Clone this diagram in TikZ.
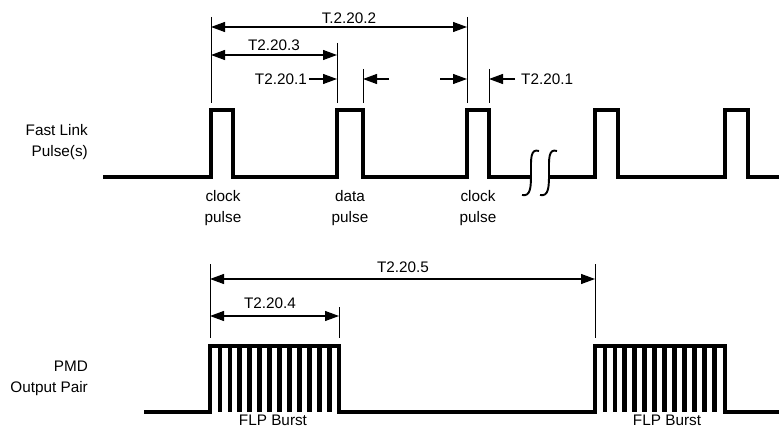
\documentclass[tikz,border=0pt]{standalone}
\usepackage{fontspec}
\setmainfont{Liberation Sans}
\usetikzlibrary{arrows.meta}

\begin{document}
\begin{tikzpicture}[x=1pt,y=-1pt,>={Triangle[length=14pt,width=10pt]},
    wave/.style={line width=3.4pt,line join=miter},
    dimline/.style={line width=1.1pt},
    tickline/.style={line width=0.9pt},
    lbl/.style={inner sep=0pt,font=\fontsize{15.3}{21}\selectfont}]
    \useasboundingbox (0,0) rectangle (779,428);

    % signal names
    \node[lbl,anchor=east,align=right] (flp) at (88,142) {Fast Link\\Pulse(s)};
    \node[lbl,anchor=east,align=right] (pmd) at (88,378) {PMD\\Output Pair};

    % fast link pulses, broken in the middle
    \draw[wave] (103,177) \foreach \a/\b in {211/233,337/363,467/489} {
        -- (\a,177) -- (\a,110) -- (\b,110) -- (\b,177)} -- (531,177);
    \draw[wave] (549,177) \foreach \a/\b in {595/618,725/748} {
        -- (\a,177) -- (\a,110) -- (\b,110) -- (\b,177)} -- (779,177);
    \foreach \x in {0,18}
        \draw[line width=1.9pt] (539+\x,151) .. controls (530+\x,148) and (531+\x,160) .. (531+\x,173)
            .. controls (531+\x,186) and (531+\x,197) .. (522+\x,195);

    \node[lbl,align=center] (clk1) at (223,208) {clock\\pulse};
    \node[lbl,align=center] (data) at (350,208) {data\\pulse};
    \node[lbl,align=center] (clk2) at (478,208) {clock\\pulse};

    % timing marks, pulses
    \draw[tickline] (211,17) -- (211,103);
    \draw[tickline] (337,43) -- (337,103);
    \draw[tickline] (363,69) -- (363,103);
    \draw[tickline] (467,17) -- (467,103);
    \draw[tickline] (489,69) -- (489,103);

    \draw[dimline,<->] (211,27) -- (467,27);
    \node[lbl] (t202) at (349,18) {T.2.20.2};
    \draw[dimline,<->] (211,55) -- (337,55);
    \node[lbl] (t203) at (274,45) {T2.20.3};
    \node[lbl,anchor=east] (t201a) at (307,79) {T2.20.1};
    \draw[dimline,->] (t201a.east) ++(2,0) -- (337,79);
    \draw[dimline,->] (389,79) -- (363,79);
    \draw[dimline,->] (440,79) -- (467,79);
    \node[lbl,anchor=west] (t201b) at (521,79) {T2.20.1};
    \draw[dimline,->] (t201b.west) ++(-6,0) -- (489,79);

    % pmd output pair, two bursts
    \draw[wave] (144,412) -- (210,412) -- (210,346) -- (339,346) -- (339,412)
        -- (595,412) -- (595,346) -- (725,346) -- (725,412) -- (779,412);
    \foreach \s in {210,595}
        \foreach \k in {1,...,12}
            \draw[line width=4.8pt] (\s+\k*9.95,346) -- (\s+\k*9.95,412);

    \node[lbl] (burst1) at (273,420.5) {FLP Burst};
    \node[lbl] (burst2) at (667,420.5) {FLP Burst};

    % timing marks, bursts
    \draw[tickline] (210,264) -- (210,338);
    \draw[tickline] (339,307) -- (339,338);
    \draw[tickline] (595,264) -- (595,338);

    \draw[dimline,<->] (210,279) -- (595,279);
    \node[lbl] (t205) at (403,267) {T2.20.5};
    \draw[dimline,<->] (210,316) -- (339,316);
    \node[lbl] (t204) at (270,303) {T2.20.4};
\end{tikzpicture}
\end{document}
